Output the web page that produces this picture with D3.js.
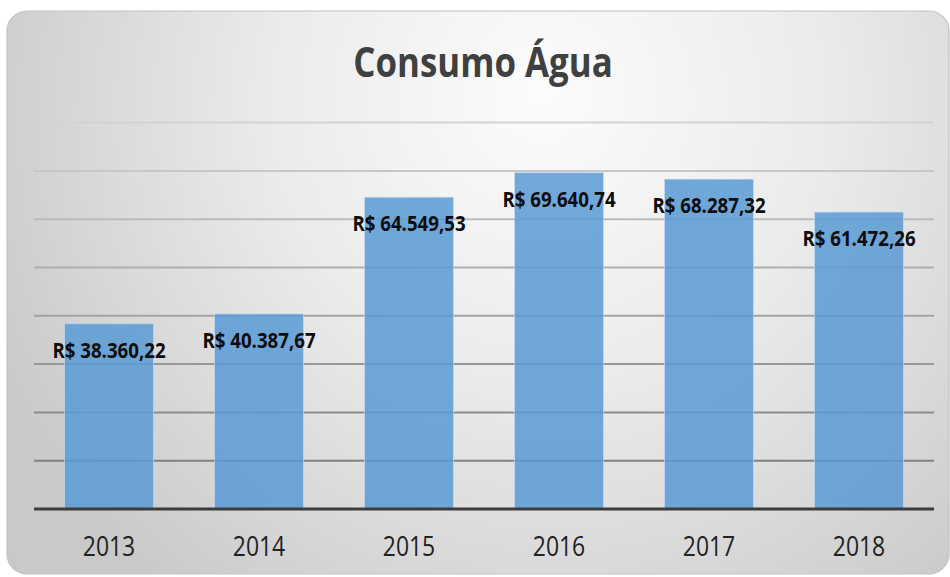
<!DOCTYPE html>
<html>
<head>
<meta charset="utf-8">
<script src="https://cdn.jsdelivr.net/npm/d3@7"></script>
<style>
  html, body { margin: 0; padding: 0; background: #ffffff; }
  svg { display: block; }
</style>
</head>
<body>
<svg id="chart" width="950" height="577"></svg>
<script>
// Water consumption cost per year (R$)
const years = ["2013", "2014", "2015", "2016", "2017", "2018"];
const values = [38360.22, 40387.67, 64549.53, 69640.74, 68287.32, 61472.26];
const gridTicks = [10000, 20000, 30000, 40000, 50000, 60000, 70000, 80000];
const title = "Consumo Água";

const W = 950, H = 577;
const svg = d3.select("#chart");
const defs = svg.append("defs");

// Card background: soft radial grey gradient
const rg = defs.append("radialGradient")
  .attr("id", "bg")
  .attr("gradientUnits", "userSpaceOnUse")
  .attr("cx", 560).attr("cy", 120).attr("r", 620)
  .attr("fx", 540).attr("fy", 90);
rg.append("stop").attr("offset", 0).attr("stop-color", "#fcfcfc");
rg.append("stop").attr("offset", 0.45).attr("stop-color", "#ebebeb");
rg.append("stop").attr("offset", 1).attr("stop-color", "#c9c9c9");

// Gridlines fade lighter toward the top
const gg = defs.append("linearGradient")
  .attr("id", "gridStroke")
  .attr("gradientUnits", "userSpaceOnUse")
  .attr("x1", 0).attr("y1", 110).attr("x2", 0).attr("y2", 470);
gg.append("stop").attr("offset", 0).attr("stop-color", "#d6d6d6");
gg.append("stop").attr("offset", 1).attr("stop-color", "#7e7e7e");

svg.append("rect")
  .attr("x", 7).attr("y", 11)
  .attr("width", 942).attr("height", 563)
  .attr("rx", 20).attr("ry", 20)
  .attr("fill", "url(#bg)")
  .attr("stroke", "#c2c2c2")
  .attr("stroke-width", 1.2);

const plot = { left: 34, right: 934, top: 122.6, bottom: 509 };

const x = d3.scaleBand()
  .domain(years)
  .range([plot.left, plot.right])
  .paddingInner(0.407)
  .paddingOuter(0.2035);

const y = d3.scaleLinear()
  .domain([0, 80000])
  .range([plot.bottom, plot.top]);

// Horizontal gridlines
svg.append("g")
  .selectAll("line")
  .data(gridTicks)
  .join("line")
  .attr("x1", plot.left).attr("x2", plot.right)
  .attr("y1", d => y(d)).attr("y2", d => y(d))
  .attr("stroke", "url(#gridStroke)")
  .attr("stroke-width", 2);

// Bars
svg.append("g")
  .selectAll("rect")
  .data(values)
  .join("rect")
  .attr("x", (d, i) => x(years[i]))
  .attr("y", d => y(d))
  .attr("width", x.bandwidth())
  .attr("height", d => y(0) - y(d))
  .attr("fill", "#5b9bd5")
  .attr("fill-opacity", 0.86)
  .attr("stroke", "#cfe0f2")
  .attr("stroke-opacity", 0.6)
  .attr("stroke-width", 1);

// Category axis
const xAxis = svg.append("g")
  .attr("transform", `translate(0,${plot.bottom})`)
  .call(d3.axisBottom(x).tickSize(0).tickPadding(0));
xAxis.select(".domain")
  .attr("d", `M${plot.left},0H${plot.right}`)
  .attr("stroke", "#3c3c3c")
  .attr("stroke-width", 3);
xAxis.selectAll(".tick text")
  .attr("y", 0).attr("dy", 0)
  .attr("transform", "translate(0,47) scale(0.82,1)")
  .attr("font-family", "'Open Sans', sans-serif")
  .attr("font-size", 28)
  .attr("fill", "#222222");

// Value labels
const fmt = d3.formatLocale({
  decimal: ",", thousands: ".", grouping: [3], currency: ["R$ ", ""]
}).format("$,.2f");

svg.append("g")
  .selectAll("text")
  .data(values)
  .join("text")
  .attr("transform", (d, i) =>
    `translate(${x(years[i]) + x.bandwidth() / 2},${y(d) + 34}) scale(0.89,1)`)
  .attr("text-anchor", "middle")
  .attr("font-family", "'Open Sans', sans-serif")
  .attr("font-weight", 700)
  .attr("font-size", 21)
  .attr("fill", "#0d0d0d")
  .text(d => fmt(d));

// Title
svg.append("text")
  .attr("transform", "translate(483,77) scale(0.83,1)")
  .attr("text-anchor", "middle")
  .attr("font-family", "'Open Sans', sans-serif")
  .attr("font-weight", 700)
  .attr("font-size", 42)
  .attr("fill", "#404040")
  .text(title);
</script>
</body>
</html>
